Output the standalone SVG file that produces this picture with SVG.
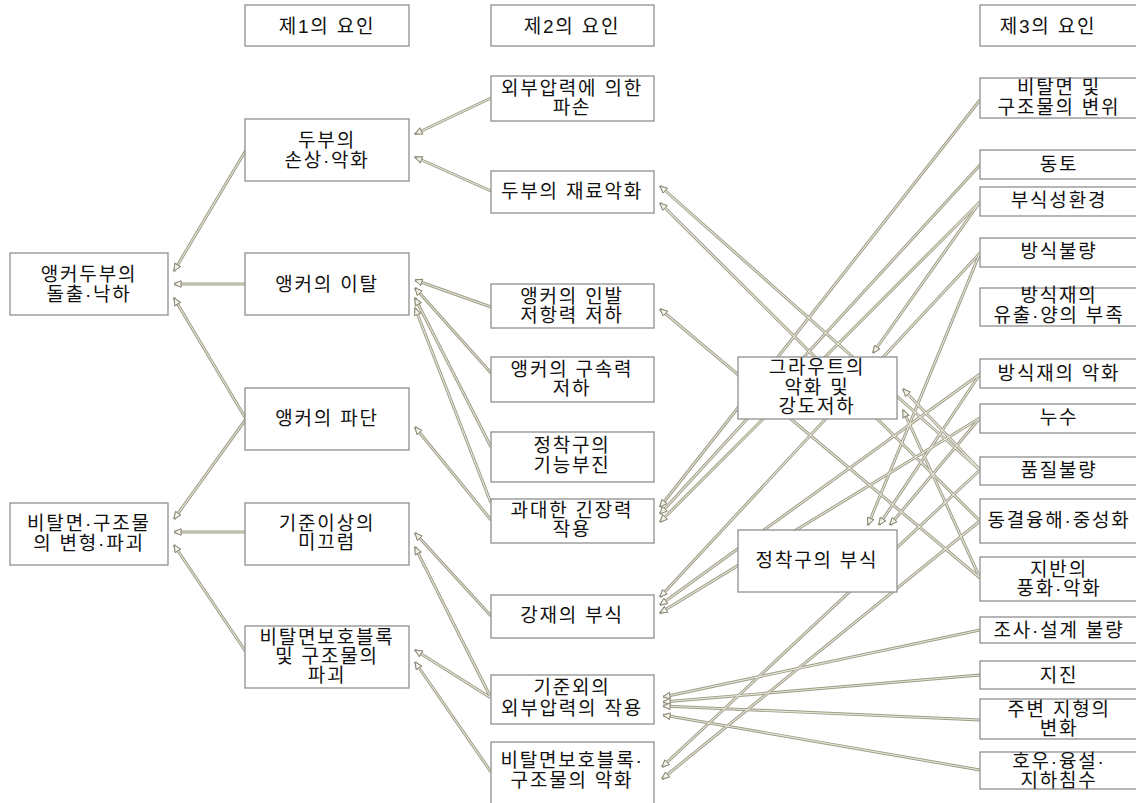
<svg xmlns="http://www.w3.org/2000/svg" xmlns:xlink="http://www.w3.org/1999/xlink" width="1136" height="803" viewBox="0 0 1136 803">
<style>
.box{fill:#ffffff;stroke:#8f8f8f;stroke-width:1.3}
.t{font-family:"Liberation Sans","Noto Sans CJK KR",sans-serif;font-size:19px;letter-spacing:1.8px;fill:#111;text-anchor:middle;dominant-baseline:central}
</style>
<defs>
<marker id="ah" viewBox="-8 -4.5 9 9" refX="0" refY="0" markerWidth="9" markerHeight="9" markerUnits="userSpaceOnUse" orient="auto">
<path d="M0,0 L-7,-3.2 L-7,3.2 Z" fill="#f3f3ec" stroke="#8a8874" stroke-width="0.9"/>
</marker>
</defs>
<rect width="1136" height="803" fill="#ffffff"/>
<g id="connectors" stroke="#9e9c86" stroke-width="3">
<g id="cpaths" fill="none" marker-end="url(#ah)">
<path d="M246,150 L174,271"/>
<path d="M246,284 L174,284"/>
<path d="M246,419 L174,298"/>
<path d="M246,419 L174,519"/>
<path d="M246,532 L174,532"/>
<path d="M246,652 L174,545"/>
<path d="M491,98 L415,134"/>
<path d="M491,191 L415,157"/>
<path d="M491,307 L415,280"/>
<path d="M491,373 L415,288"/>
<path d="M491,447 L415,298"/>
<path d="M491,503 L415,308"/>
<path d="M491,520 L415,427"/>
<path d="M491,616 L415,533"/>
<path d="M491,698 L415,547"/>
<path d="M491,698 L415,650"/>
<path d="M491,772 L415,662"/>
<path d="M980,470 L660,186"/>
<path d="M980,521 L660,203"/>
<path d="M980,578 L660,309"/>
<path d="M980,100 L660,507"/>
<path d="M980,165 L660,514"/>
<path d="M980,202 L660,522"/>
<path d="M980,253 L660,597"/>
<path d="M980,374 L660,605"/>
<path d="M980,418 L660,613"/>
<path d="M980,630 L663,697"/>
<path d="M980,675 L663,702"/>
<path d="M980,720 L663,706"/>
<path d="M980,770 L663,715"/>
<path d="M980,470 L662,767"/>
<path d="M980,521 L662,779"/>
<path d="M980,202 L873,353"/>
<path d="M980,470 L903,389"/>
<path d="M980,578 L903,410"/>
<path d="M980,253 L868,525"/>
<path d="M980,374 L879,525"/>
<path d="M980,418 L890,525"/>
</g>
<use xlink:href="#cpaths" href="#cpaths" stroke="#e6e5da" stroke-width="1.1"/>
</g>
<g id="h1"><rect class="box" x="245" y="5" width="164" height="41"/><text class="t" x="327" y="26">제1의 요인</text></g>
<g id="h2"><rect class="box" x="491" y="5" width="163" height="41"/><text class="t" x="572" y="26">제2의 요인</text></g>
<g id="h3"><rect class="box" x="980" y="5" width="165" height="41"/><text class="t" x="1048" y="26">제3의 요인</text></g>
<g id="n-a1"><rect class="box" x="10" y="253" width="158" height="62"/><text class="t" x="89" y="274">앵커두부의<tspan x="89" dy="20">돌출·낙하</tspan></text></g>
<g id="n-a2"><rect class="box" x="10" y="503" width="158" height="62"/><text class="t" x="89" y="523">비탈면·구조물<tspan x="89" dy="20">의 변형·파괴</tspan></text></g>
<g id="n-b1"><rect class="box" x="245" y="119" width="164" height="62"/><text class="t" x="327" y="140">두부의<tspan x="327" dy="20">손상·악화</tspan></text></g>
<g id="n-b2"><rect class="box" x="245" y="253" width="164" height="62"/><text class="t" x="327" y="284">앵커의 이탈</text></g>
<g id="n-b3"><rect class="box" x="245" y="388" width="164" height="62"/><text class="t" x="327" y="418">앵커의 파단</text></g>
<g id="n-b4"><rect class="box" x="245" y="503" width="164" height="62"/><text class="t" x="327" y="523">기준이상의<tspan x="327" dy="19">미끄럼</tspan></text></g>
<g id="n-b5"><rect class="box" x="245" y="626" width="164" height="62"/><text class="t" x="327" y="637">비탈면보호블록<tspan x="327" dy="19">및 구조물의</tspan><tspan x="327" dy="19">파괴</tspan></text></g>
<g id="n-c1"><rect class="box" x="491" y="76" width="163" height="45"/><text class="t" x="572" y="88">외부압력에 의한<tspan x="572" dy="19">파손</tspan></text></g>
<g id="n-c2"><rect class="box" x="491" y="171" width="163" height="42"/><text class="t" x="572" y="191">두부의 재료악화</text></g>
<g id="n-c3"><rect class="box" x="491" y="284" width="163" height="44"/><text class="t" x="572" y="296">앵커의 인발<tspan x="572" dy="19">저항력 저하</tspan></text></g>
<g id="n-c4"><rect class="box" x="491" y="357" width="163" height="45"/><text class="t" x="572" y="369">앵커의 구속력<tspan x="572" dy="19">저하</tspan></text></g>
<g id="n-c5"><rect class="box" x="491" y="432" width="163" height="50"/><text class="t" x="572" y="445">정착구의<tspan x="572" dy="20">기능부진</tspan></text></g>
<g id="n-c6"><rect class="box" x="491" y="499" width="163" height="44"/><text class="t" x="572" y="510">과대한 긴장력<tspan x="572" dy="19">작용</tspan></text></g>
<g id="n-c7"><rect class="box" x="491" y="595" width="163" height="43"/><text class="t" x="572" y="615">강재의 부식</text></g>
<g id="n-c8"><rect class="box" x="491" y="675" width="163" height="49"/><text class="t" x="572" y="687">기준외의<tspan x="572" dy="21">외부압력의 작용</tspan></text></g>
<g id="n-c9"><rect class="box" x="491" y="742" width="163" height="70"/><text class="t" x="572" y="760">비탈면보호블록·<tspan x="572" dy="20">구조물의 악화</tspan></text></g>
<g id="n-m1"><rect class="box" x="738" y="357" width="159" height="62"/><text class="t" x="817" y="367">그라우트의<tspan x="817" dy="20">악화 및</tspan><tspan x="817" dy="19">강도저하</tspan></text></g>
<g id="n-m2"><rect class="box" x="738" y="530" width="159" height="62"/><text class="t" x="817" y="560">정착구의 부식</text></g>
<g id="n-d1"><rect class="box" x="980" y="78" width="165" height="40"/><text class="t" x="1059" y="87">비탈면 및<tspan x="1059" dy="20">구조물의 변위</tspan></text></g>
<g id="n-d2"><rect class="box" x="980" y="150" width="165" height="29"/><text class="t" x="1059" y="164">동토</text></g>
<g id="n-d3"><rect class="box" x="980" y="187" width="165" height="29"/><text class="t" x="1059" y="200">부식성환경</text></g>
<g id="n-d4"><rect class="box" x="980" y="238" width="165" height="29"/><text class="t" x="1059" y="251">방식불량</text></g>
<g id="n-d5"><rect class="box" x="980" y="288" width="165" height="38"/><text class="t" x="1059" y="295">방식재의<tspan x="1059" dy="20">유출·양의 부족</tspan></text></g>
<g id="n-d6"><rect class="box" x="980" y="359" width="165" height="29"/><text class="t" x="1059" y="373">방식재의 악화</text></g>
<g id="n-d7"><rect class="box" x="980" y="404" width="165" height="29"/><text class="t" x="1059" y="417">누수</text></g>
<g id="n-d8"><rect class="box" x="980" y="457" width="165" height="28"/><text class="t" x="1059" y="470">품질불량</text></g>
<g id="n-d9"><rect class="box" x="980" y="499" width="165" height="44"/><text class="t" x="1059" y="520">동결융해·중성화</text></g>
<g id="n-d10"><rect class="box" x="980" y="557" width="165" height="44"/><text class="t" x="1059" y="569">지반의<tspan x="1059" dy="19">풍화·악화</tspan></text></g>
<g id="n-d11"><rect class="box" x="980" y="617" width="165" height="26"/><text class="t" x="1059" y="630">조사·설계 불량</text></g>
<g id="n-d12"><rect class="box" x="980" y="661" width="165" height="28"/><text class="t" x="1059" y="675">지진</text></g>
<g id="n-d13"><rect class="box" x="980" y="699" width="165" height="40"/><text class="t" x="1059" y="709">주변 지형의<tspan x="1059" dy="19">변화</tspan></text></g>
<g id="n-d14"><rect class="box" x="980" y="752" width="165" height="37"/><text class="t" x="1059" y="761">호우·융설·<tspan x="1059" dy="19">지하침수</tspan></text></g>
</svg>
